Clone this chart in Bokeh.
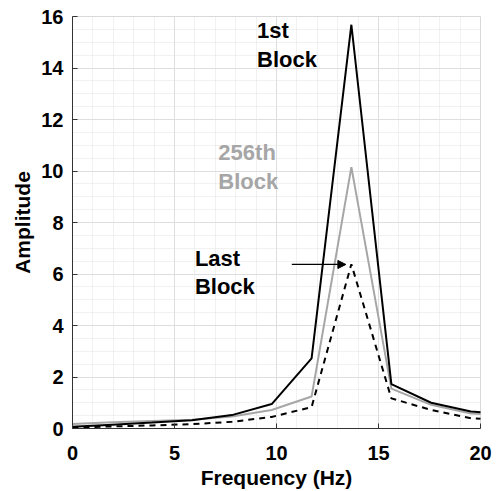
from bokeh.plotting import figure
from bokeh.models import Range1d, Arrow, NormalHead, FixedTicker
from bokeh.core.properties import value
from bokeh.embed import file_html
from bokeh.resources import INLINE

freq = [0, 1.953, 3.906, 5.859, 7.813, 9.766, 11.72, 13.67, 15.63, 17.58, 19.53, 21.48]
first_block = [0.07, 0.15, 0.23, 0.32, 0.52, 0.95, 2.72, 15.68, 1.72, 1.0, 0.66, 0.56]
block_256 = [0.17, 0.24, 0.29, 0.34, 0.47, 0.72, 1.24, 10.15, 1.55, 0.92, 0.58, 0.50]
last_block = [0.04, 0.08, 0.12, 0.17, 0.26, 0.45, 0.83, 6.38, 1.17, 0.72, 0.40, 0.32]

x_ticks = [0, 5, 10, 15, 20]
y_ticks = [0, 2, 4, 6, 8, 10, 12, 14, 16]

FONT = "Liberation Sans"

p = figure(width=498, height=491, output_backend="svg", toolbar_location=None,
           x_range=Range1d(0, 20), y_range=Range1d(0, 16),
           min_border_left=72, min_border_right=18, min_border_top=16, min_border_bottom=63)
p.background_fill_color = "white"
p.border_fill_color = "white"
p.outline_line_color = "#d9d9d9"
p.outline_line_width = 1

p.axis.major_label_text_font = FONT
p.axis.major_label_text_font_style = "bold"
p.axis.major_label_text_font_size = "20px"
p.axis.major_label_text_color = "black"
p.axis.axis_label_text_font = FONT
p.axis.axis_label_text_font_style = "bold"
p.axis.axis_label_text_font_size = "21px"
p.axis.axis_label_text_color = "black"
p.axis.axis_line_color = "#333333"
p.axis.major_tick_line_color = "#333333"
p.axis.major_tick_in = 5
p.axis.major_tick_out = 0
p.axis.minor_tick_line_color = None

p.xaxis.ticker = FixedTicker(ticks=x_ticks, minor_ticks=list(range(0, 21)))
p.yaxis.ticker = FixedTicker(ticks=y_ticks, minor_ticks=[i * 0.5 for i in range(33)])
p.xaxis.axis_label = "Frequency (Hz)"
p.yaxis.axis_label = "Amplitude"
p.xaxis.major_label_standoff = 13
p.yaxis.major_label_standoff = 5
p.xaxis.axis_label_standoff = 3
p.yaxis.axis_label_standoff = 4

for g in (p.xgrid[0], p.ygrid[0]):
    g.grid_line_color = "#dedede"
    g.grid_line_width = 1
    g.minor_grid_line_color = "#e2e2e2"
    g.minor_grid_line_dash = "1 1"
    g.minor_grid_line_width = 1

p.line(freq, block_256, line_color="#a6a6a6", line_width=2)
p.line(freq, first_block, line_color="black", line_width=2)
p.line(freq, last_block, line_color="black", line_width=2, line_dash="6 5")

p.text(x=[9.05], y=[15.95], text=["1st\nBlock"], text_font=value(FONT), text_font_style="bold",
       text_font_size="22px", text_color="black", text_baseline="top", text_line_height=1.15)
p.text(x=[7.15], y=[11.2], text=["256th\nBlock"], text_font=value(FONT), text_font_style="bold",
       text_font_size="22px", text_color="#a6a6a6", text_baseline="top", text_line_height=1.15)
p.text(x=[6.0], y=[7.1], text=["Last\nBlock"], text_font=value(FONT), text_font_style="bold",
       text_font_size="22px", text_color="black", text_baseline="top", text_line_height=1.15)

p.add_layout(Arrow(x_start=10.75, y_start=6.37, x_end=13.4, y_end=6.37, line_color="black", line_width=1.3,
                   end=NormalHead(size=8, fill_color="black", line_color="black")))

open("out.html", "w").write(file_html(p, INLINE))
